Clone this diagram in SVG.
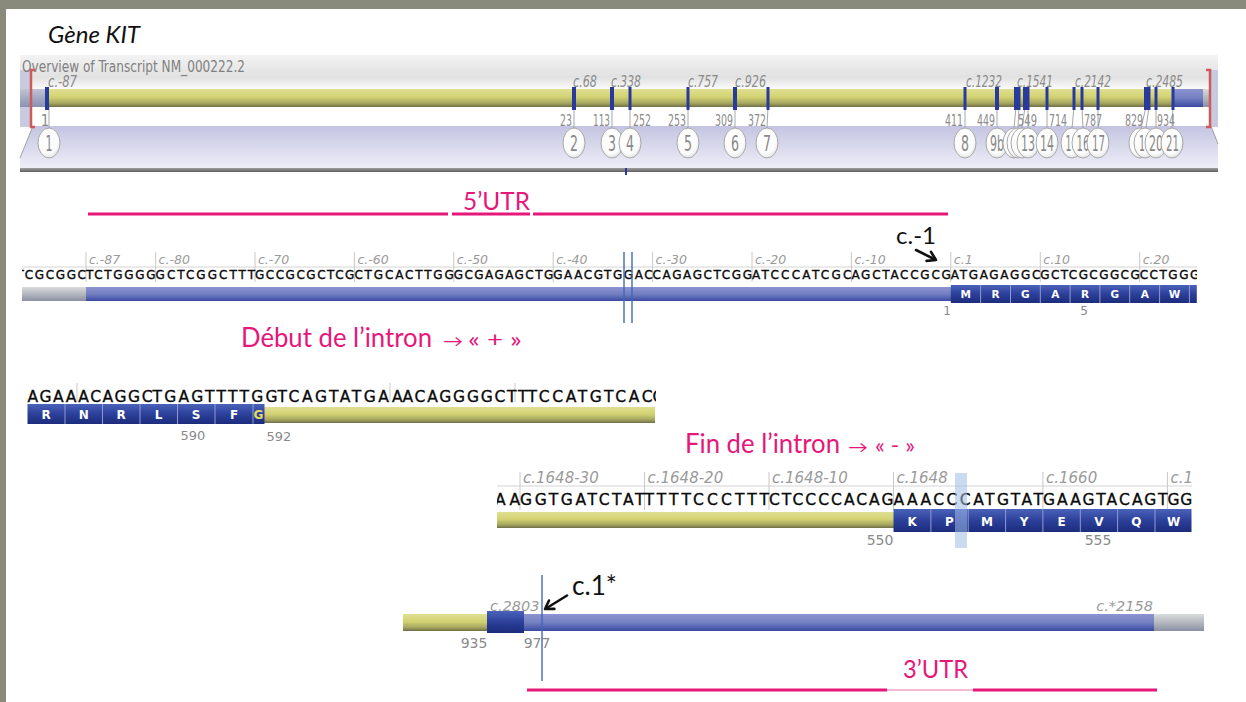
<svg xmlns="http://www.w3.org/2000/svg" width="1246" height="702" viewBox="0 0 1246 702">
<defs>
<linearGradient id="gYel" x1="0" y1="0" x2="0" y2="1"><stop offset="0" stop-color="#dfdf92"/><stop offset="0.45" stop-color="#d2d272"/><stop offset="0.8" stop-color="#a4a460"/><stop offset="1" stop-color="#6e6e46"/></linearGradient>
<linearGradient id="gBlue" x1="0" y1="0" x2="0" y2="1"><stop offset="0" stop-color="#8c94d0"/><stop offset="0.5" stop-color="#7480c2"/><stop offset="1" stop-color="#3a4aa2"/></linearGradient>
<linearGradient id="gDark" x1="0" y1="0" x2="0" y2="1"><stop offset="0" stop-color="#4a62ba"/><stop offset="0.5" stop-color="#2c409a"/><stop offset="1" stop-color="#1c2c7c"/></linearGradient>
<linearGradient id="gGray" x1="0" y1="0" x2="0" y2="1"><stop offset="0" stop-color="#d8dcdc"/><stop offset="0.5" stop-color="#b4b8bf"/><stop offset="1" stop-color="#8a90a2"/></linearGradient>
<linearGradient id="gGrayBlue" x1="0" y1="0" x2="0" y2="1"><stop offset="0" stop-color="#c0c4d6"/><stop offset="1" stop-color="#8a90b0"/></linearGradient>
<linearGradient id="gLav" x1="0" y1="0" x2="0" y2="1"><stop offset="0" stop-color="#c4c4e2"/><stop offset="1" stop-color="#eeeef8"/></linearGradient>
<linearGradient id="gTop" x1="0" y1="0" x2="0" y2="1"><stop offset="0" stop-color="#f3f3f3"/><stop offset="0.65" stop-color="#e1e1e1"/><stop offset="1" stop-color="#fafafa"/></linearGradient>
<linearGradient id="gBot" x1="0" y1="0" x2="0" y2="1"><stop offset="0" stop-color="#a0a0a0"/><stop offset="1" stop-color="#5e5e5e"/></linearGradient>
<radialGradient id="gCirc" cx="0.45" cy="0.4" r="0.65"><stop offset="0" stop-color="#ffffff"/><stop offset="0.7" stop-color="#fbfbfb"/><stop offset="1" stop-color="#dcdcdc"/></radialGradient>
<clipPath id="c1"><rect x="22" y="245" width="1175" height="60"/></clipPath>
<clipPath id="c2"><rect x="26" y="380" width="630" height="30"/></clipPath>
<clipPath id="c3"><rect x="497" y="465" width="695" height="50"/></clipPath>
</defs>
<style>
.seq{font-family:'DejaVu Sans',Verdana,sans-serif;fill:#0a0a0a;stroke:#0a0a0a;stroke-width:0.35}
.s1{font-size:12px}
.s2{font-size:15.5px}
.rl{font-family:'DejaVu Sans',Verdana,sans-serif;font-style:italic;fill:#9a9a9a}
.aa{font-family:'DejaVu Sans',Verdana,sans-serif;font-weight:bold;fill:#ffffff;text-anchor:middle}
.num{font-family:'DejaVu Sans',Verdana,sans-serif;fill:#8a8a8a;text-anchor:middle}
.pink{font-family:Lato,'Open Sans','DejaVu Sans',sans-serif;fill:#e6177a}
.blk{font-family:Lato,'Open Sans',sans-serif;fill:#111}
.ov{font-family:'DejaVu Sans Condensed','Liberation Sans',sans-serif;fill:#808080}
.ovi{font-family:'DejaVu Sans Condensed','Liberation Sans',sans-serif;fill:#8a8a8a;font-style:italic;font-size:15px}
.ovn{font-family:'DejaVu Sans Condensed','Liberation Sans',sans-serif;fill:#8a8a8a;font-size:15px}
.cl{font-family:'DejaVu Sans Condensed','Liberation Sans',sans-serif;fill:#888888;font-size:22px;text-anchor:middle}
.mk{fill:#2a3a9c}
.tick{stroke:#c8c8c8;stroke-width:1}
.circ{fill:url(#gCirc);stroke:#a8a8a8;stroke-width:1}
.lead{stroke:#a8a8a8;stroke-width:1}
.sep{stroke:#8f9bd0;stroke-width:1}
.pl{stroke:#e6177a;stroke-width:3}
.arr{stroke:#111;stroke-width:2.6;fill:none;stroke-linecap:round;stroke-linejoin:round}
.vl{stroke:#3f68b8;stroke-width:1.4}
</style>

<rect width="1246" height="702" fill="#ffffff"/>
<rect x="0" y="0" width="1246" height="9" fill="#8a8a7c"/>
<rect x="0" y="0" width="6" height="702" fill="#8a8a7c"/>

<text x="48" y="43" class="blk" font-size="24" font-style="italic" textLength="92" lengthAdjust="spacingAndGlyphs">Gène KIT</text>

<g id="overview">
<rect x="20" y="55" width="1198" height="34" fill="url(#gTop)"/>
<rect x="20" y="70" width="12" height="57" fill="#c8cbe0"/>
<rect x="1210" y="70" width="8" height="57" fill="#c8cbe0"/>
<polygon points="33,126 1211,126 1218,144 1218,168 20,168 20,158" fill="url(#gLav)"/>
<line x1="33" y1="126" x2="20" y2="158" stroke="#a0a0a0" stroke-width="1"/>
<line x1="1211" y1="126" x2="1218" y2="144" stroke="#a0a0a0" stroke-width="1"/>
<rect x="20" y="168" width="1198" height="4" fill="url(#gBot)"/>
<rect x="625" y="168" width="2" height="7" fill="#2a3a9c"/>
<text x="22" y="72" class="ov" font-size="16" textLength="223" lengthAdjust="spacingAndGlyphs">Overview of Transcript NM_000222.2</text>
<rect x="20" y="89" width="27" height="18" fill="url(#gGrayBlue)"/>
<rect x="47" y="89" width="1126" height="18" fill="url(#gYel)"/>
<rect x="1173" y="89" width="30" height="18" fill="url(#gBlue)"/>
<rect x="1203" y="89" width="7" height="18" fill="url(#gGray)"/>
<path d="M35,70 H31 V127 H35" fill="none" stroke="#d05a5a" stroke-width="2.5"/>
<path d="M1206,70 H1210 V127 H1206" fill="none" stroke="#d05a5a" stroke-width="2.5"/>

<g id="ov-labels">
<text x="48" y="87" class="ovi" textLength="29" lengthAdjust="spacingAndGlyphs">c.-87</text>
<text x="573" y="87" class="ovi" textLength="24" lengthAdjust="spacingAndGlyphs">c.68</text>
<text x="611" y="87" class="ovi" textLength="30" lengthAdjust="spacingAndGlyphs">c.338</text>
<text x="688" y="87" class="ovi" textLength="30" lengthAdjust="spacingAndGlyphs">c.757</text>
<text x="735" y="87" class="ovi" textLength="31" lengthAdjust="spacingAndGlyphs">c.926</text>
<text x="966" y="87" class="ovi" textLength="36" lengthAdjust="spacingAndGlyphs">c.1232</text>
<text x="1017" y="87" class="ovi" textLength="36" lengthAdjust="spacingAndGlyphs">c.1541</text>
<text x="1075" y="87" class="ovi" textLength="36" lengthAdjust="spacingAndGlyphs">c.2142</text>
<text x="1146" y="87" class="ovi" textLength="37" lengthAdjust="spacingAndGlyphs">c.2485</text>
</g>

<g id="ov-leads">
<line class="lead" x1="49" y1="107" x2="49" y2="128"/>
<line class="lead" x1="574" y1="107" x2="574" y2="128"/>
<line class="lead" x1="612" y1="107" x2="612" y2="128"/>
<line class="lead" x1="630" y1="107" x2="630" y2="128"/>
<line class="lead" x1="688" y1="107" x2="688" y2="128"/>
<line class="lead" x1="735" y1="107" x2="735" y2="128"/>
<line class="lead" x1="768" y1="107" x2="767" y2="128"/>
<line class="lead" x1="965" y1="107" x2="965" y2="128"/>
<line class="lead" x1="997" y1="107" x2="997" y2="128"/>
<line class="lead" x1="1016" y1="107" x2="1014" y2="128"/>
<line class="lead" x1="1019" y1="107" x2="1018" y2="128"/>
<line class="lead" x1="1025" y1="107" x2="1022" y2="128"/>
<line class="lead" x1="1028" y1="107" x2="1028" y2="128"/>
<line class="lead" x1="1047" y1="107" x2="1047" y2="128"/>
<line class="lead" x1="1074" y1="107" x2="1072" y2="128"/>
<line class="lead" x1="1082" y1="107" x2="1083" y2="128"/>
<line class="lead" x1="1098" y1="107" x2="1098" y2="128"/>
<line class="lead" x1="1146" y1="107" x2="1141" y2="128"/>
<line class="lead" x1="1149" y1="107" x2="1146" y2="128"/>
<line class="lead" x1="1156" y1="107" x2="1156" y2="128"/>
<line class="lead" x1="1173" y1="107" x2="1172" y2="128"/>
</g>

<g id="ov-markers">
<rect class="mk" x="45" y="87" width="4" height="23"/>
<rect class="mk" x="572" y="87" width="4" height="23"/>
<rect class="mk" x="610" y="87" width="4" height="23"/>
<rect class="mk" x="628.5" y="87" width="3" height="23"/>
<rect class="mk" x="686.5" y="87" width="3" height="23"/>
<rect class="mk" x="733" y="87" width="4" height="23"/>
<rect class="mk" x="766.5" y="87" width="3" height="23"/>
<rect class="mk" x="963.5" y="87" width="3" height="23"/>
<rect class="mk" x="995" y="87" width="4" height="23"/>
<rect class="mk" x="1014" y="87" width="4" height="23"/>
<rect class="mk" x="1017.5" y="87" width="3" height="23"/>
<rect class="mk" x="1023" y="87" width="4" height="23"/>
<rect class="mk" x="1026.5" y="87" width="3" height="23"/>
<rect class="mk" x="1045.5" y="87" width="3" height="23"/>
<rect class="mk" x="1072.5" y="87" width="3" height="23"/>
<rect class="mk" x="1080.5" y="87" width="3" height="23"/>
<rect class="mk" x="1096.5" y="87" width="3" height="23"/>
<rect class="mk" x="1144" y="87" width="4" height="23"/>
<rect class="mk" x="1147.5" y="87" width="3" height="23"/>
<rect class="mk" x="1154.5" y="87" width="3" height="23"/>
<rect class="mk" x="1171.5" y="87" width="3" height="23"/>
</g>

<g id="ov-numbers">
<text x="45" y="126" class="ovn" text-anchor="middle">1</text>
<text x="572" y="126" class="ovn" text-anchor="end" textLength="12" lengthAdjust="spacingAndGlyphs">23</text>
<text x="610" y="126" class="ovn" text-anchor="end" textLength="17" lengthAdjust="spacingAndGlyphs">113</text>
<text x="633" y="126" class="ovn" textLength="18" lengthAdjust="spacingAndGlyphs">252</text>
<text x="686" y="126" class="ovn" text-anchor="end" textLength="18" lengthAdjust="spacingAndGlyphs">253</text>
<text x="733" y="126" class="ovn" text-anchor="end" textLength="18" lengthAdjust="spacingAndGlyphs">309</text>
<text x="766" y="126" class="ovn" text-anchor="end" textLength="18" lengthAdjust="spacingAndGlyphs">372</text>
<text x="963" y="126" class="ovn" text-anchor="end" textLength="18" lengthAdjust="spacingAndGlyphs">411</text>
<text x="995" y="126" class="ovn" text-anchor="end" textLength="18" lengthAdjust="spacingAndGlyphs">449</text>
<text x="1018" y="126" class="ovn" textLength="19" lengthAdjust="spacingAndGlyphs">549</text>
<text x="1049" y="126" class="ovn" textLength="18" lengthAdjust="spacingAndGlyphs">714</text>
<text x="1084" y="126" class="ovn" textLength="18" lengthAdjust="spacingAndGlyphs">787</text>
<text x="1143" y="126" class="ovn" text-anchor="end" textLength="18" lengthAdjust="spacingAndGlyphs">829</text>
<text x="1157" y="126" class="ovn" textLength="18" lengthAdjust="spacingAndGlyphs">934</text>
</g>

<g id="ov-exons">
<g id="ex1"><ellipse class="circ" cx="49" cy="143" rx="11" ry="15"/><text class="cl" x="49" y="151" textLength="7" lengthAdjust="spacingAndGlyphs">1</text></g>
<g id="ex2"><ellipse class="circ" cx="574" cy="143" rx="11" ry="15"/><text class="cl" x="574" y="151" textLength="8" lengthAdjust="spacingAndGlyphs">2</text></g>
<g id="ex3"><ellipse class="circ" cx="612" cy="143" rx="11" ry="15"/><text class="cl" x="612" y="151" textLength="8" lengthAdjust="spacingAndGlyphs">3</text></g>
<g id="ex4"><ellipse class="circ" cx="630" cy="143" rx="11" ry="15"/><text class="cl" x="630" y="151" textLength="8" lengthAdjust="spacingAndGlyphs">4</text></g>
<g id="ex5"><ellipse class="circ" cx="688" cy="143" rx="11" ry="15"/><text class="cl" x="688" y="151" textLength="8" lengthAdjust="spacingAndGlyphs">5</text></g>
<g id="ex6"><ellipse class="circ" cx="735" cy="143" rx="11" ry="15"/><text class="cl" x="735" y="151" textLength="8" lengthAdjust="spacingAndGlyphs">6</text></g>
<g id="ex7"><ellipse class="circ" cx="767" cy="143" rx="11" ry="15"/><text class="cl" x="767" y="151" textLength="8" lengthAdjust="spacingAndGlyphs">7</text></g>
<g id="ex8"><ellipse class="circ" cx="965" cy="143" rx="11" ry="15"/><text class="cl" x="965" y="151" textLength="8" lengthAdjust="spacingAndGlyphs">8</text></g>
<g id="ex9b"><ellipse class="circ" cx="997" cy="143" rx="11" ry="15"/><text class="cl" x="997" y="151" textLength="14" lengthAdjust="spacingAndGlyphs">9b</text></g>
<g id="ex10"><ellipse class="circ" cx="1014" cy="143" rx="11" ry="15"/></g>
<g id="ex11"><ellipse class="circ" cx="1018" cy="143" rx="11" ry="15"/></g>
<g id="ex12"><ellipse class="circ" cx="1022" cy="143" rx="11" ry="15"/></g>
<g id="ex13"><ellipse class="circ" cx="1028" cy="143" rx="11" ry="15"/><text class="cl" x="1028" y="151" textLength="14" lengthAdjust="spacingAndGlyphs">13</text></g>
<g id="ex14"><ellipse class="circ" cx="1047" cy="143" rx="11" ry="15"/><text class="cl" x="1047" y="151" textLength="14" lengthAdjust="spacingAndGlyphs">14</text></g>
<g id="ex15"><ellipse class="circ" cx="1072" cy="143" rx="11" ry="15"/><text class="cl" x="1068.5" y="151" textLength="6" lengthAdjust="spacingAndGlyphs">1</text></g>
<g id="ex16"><ellipse class="circ" cx="1083" cy="143" rx="11" ry="15"/><text class="cl" x="1083" y="151" textLength="13" lengthAdjust="spacingAndGlyphs">16</text></g>
<g id="ex17"><ellipse class="circ" cx="1098" cy="143" rx="11" ry="15"/><text class="cl" x="1098.5" y="151" textLength="13" lengthAdjust="spacingAndGlyphs">17</text></g>
<g id="ex18"><ellipse class="circ" cx="1140" cy="143" rx="11" ry="15"/></g>
<g id="ex19"><ellipse class="circ" cx="1145" cy="143" rx="11" ry="15"/><text class="cl" x="1142" y="151" textLength="6" lengthAdjust="spacingAndGlyphs">1</text></g>
<g id="ex20"><ellipse class="circ" cx="1156" cy="143" rx="11" ry="15"/><text class="cl" x="1156" y="151" textLength="14" lengthAdjust="spacingAndGlyphs">20</text></g>
<g id="ex21"><ellipse class="circ" cx="1172" cy="143" rx="11" ry="15"/><text class="cl" x="1172.5" y="151" textLength="13" lengthAdjust="spacingAndGlyphs">21</text></g>
</g>
</g>

<g id="utr5">
<line class="pl" x1="88" y1="214" x2="448" y2="214"/>
<line class="pl" x1="452" y1="214" x2="530" y2="214"/>
<line class="pl" x1="533" y1="214" x2="948" y2="214"/>
<text x="463" y="210" class="pink" font-size="25" textLength="67" lengthAdjust="spacingAndGlyphs">5’UTR</text>
</g>

<g id="row1">
<line x1="22" y1="267" x2="1197" y2="267" stroke="#d4d4d4" stroke-width="1"/>
<g id="row1-ticks">
<line class="tick" x1="86" y1="252" x2="86" y2="282"/>
<line class="tick" x1="155.6" y1="252" x2="155.6" y2="282"/>
<line class="tick" x1="255" y1="252" x2="255" y2="282"/>
<line class="tick" x1="354.4" y1="252" x2="354.4" y2="282"/>
<line class="tick" x1="453.8" y1="252" x2="453.8" y2="282"/>
<line class="tick" x1="553.2" y1="252" x2="553.2" y2="282"/>
<line class="tick" x1="652.6" y1="252" x2="652.6" y2="282"/>
<line class="tick" x1="752" y1="252" x2="752" y2="282"/>
<line class="tick" x1="851.4" y1="252" x2="851.4" y2="282"/>
<line class="tick" x1="950.8" y1="252" x2="950.8" y2="282"/>
<line class="tick" x1="1040.3" y1="252" x2="1040.3" y2="282"/>
<line class="tick" x1="1139.7" y1="252" x2="1139.7" y2="282"/>
</g>
<g font-size="12.5">
<text class="rl" x="89" y="264">c.-87</text>
<text class="rl" x="158.6" y="264">c.-80</text>
<text class="rl" x="258" y="264">c.-70</text>
<text class="rl" x="357.4" y="264">c.-60</text>
<text class="rl" x="456.8" y="264">c.-50</text>
<text class="rl" x="556.2" y="264">c.-40</text>
<text class="rl" x="655.6" y="264">c.-30</text>
<text class="rl" x="755" y="264">c.-20</text>
<text class="rl" x="854.4" y="264">c.-10</text>
<text class="rl" x="953.8" y="264">c.1</text>
<text class="rl" x="1043.3" y="264">c.10</text>
<text class="rl" x="1142.7" y="264">c.20</text>
</g>
<g clip-path="url(#c1)" class="seq s1">
<text x="16.4" y="279" textLength="69.6">TCGCGGC</text>
<text x="86" y="279" textLength="69.6">TCTGGGG</text>
<text x="155.6" y="279" textLength="99.4">GCTCGGCTTT</text>
<text x="255" y="279" textLength="99.4">GCCGCGCTCG</text>
<text x="354.4" y="279" textLength="99.4">CTGCACTTGG</text>
<text x="453.8" y="279" textLength="99.4">GCGAGAGCTG</text>
<text x="553.2" y="279" textLength="99.4">GAACGTGGAC</text>
<text x="652.6" y="279" textLength="99.4">CAGAGCTCGG</text>
<text x="752" y="279" textLength="99.4">ATCCCATCGC</text>
<text x="851.4" y="279" textLength="99.4">AGCTACCGCG</text>
<text x="950.8" y="279" textLength="89.5">ATGAGAGGC</text>
<text x="1040.3" y="279" textLength="99.4">GCTCGCGGCG</text>
<text x="1139.7" y="279" textLength="59.6">CCTGGG</text>
</g>
<rect x="22" y="287" width="64" height="14" fill="url(#gGray)"/>
<rect x="86" y="287" width="865" height="14" fill="url(#gBlue)"/>
<rect x="950.8" y="285" width="246" height="18" fill="url(#gDark)"/>
<g id="row1-cells">
<line class="sep" x1="980.6" y1="285" x2="980.6" y2="303"/>
<line class="sep" x1="1010.5" y1="285" x2="1010.5" y2="303"/>
<line class="sep" x1="1040.3" y1="285" x2="1040.3" y2="303"/>
<line class="sep" x1="1070.1" y1="285" x2="1070.1" y2="303"/>
<line class="sep" x1="1099.9" y1="285" x2="1099.9" y2="303"/>
<line class="sep" x1="1129.7" y1="285" x2="1129.7" y2="303"/>
<line class="sep" x1="1159.6" y1="285" x2="1159.6" y2="303"/>
<line class="sep" x1="1189.4" y1="285" x2="1189.4" y2="303"/>
</g>
<g font-size="10.5">
<text class="aa" x="965.7" y="298">M</text>
<text class="aa" x="995.6" y="298">R</text>
<text class="aa" x="1025.4" y="298">G</text>
<text class="aa" x="1055.2" y="298">A</text>
<text class="aa" x="1085" y="298">R</text>
<text class="aa" x="1114.8" y="298">G</text>
<text class="aa" x="1144.7" y="298">A</text>
<text class="aa" x="1174.5" y="298">W</text>
</g>
<text class="num" x="947" y="315" font-size="12">1</text>
<text class="num" x="1084" y="315" font-size="12">5</text>
<line class="vl" x1="624" y1="252" x2="624" y2="323"/>
<line class="vl" x1="632" y1="252" x2="632" y2="323"/>
</g>

<g id="label-c-1">
<text x="896" y="244" class="blk" font-size="24" textLength="40" lengthAdjust="spacingAndGlyphs">c.-1</text>
<line class="arr" x1="916" y1="250" x2="935" y2="259.5"/>
<polyline class="arr" points="926.6,260.9 936,260 931,251.9"/>
</g>

<g id="label-debut">
<text x="241" y="347" class="pink" font-size="26" textLength="191" lengthAdjust="spacingAndGlyphs">Début de l’intron</text>
<text x="443" y="347" class="pink" font-size="16" textLength="20" lengthAdjust="spacingAndGlyphs">→</text>
<text x="468" y="347" class="pink" font-size="22" textLength="54" lengthAdjust="spacingAndGlyphs">« + »</text>
</g>

<g id="row2">
<line class="tick" x1="77" y1="383" x2="77" y2="402"/>
<line class="tick" x1="390" y1="383" x2="390" y2="402"/>
<line class="tick" x1="515" y1="383" x2="515" y2="402"/>
<g clip-path="url(#c2)" class="seq s2">
<text x="27.5" y="402" textLength="125">AGAAACAGGC</text>
<text x="152.5" y="402" textLength="125">TGAGTTTTGG</text>
<text x="277.5" y="402" textLength="125">TCAGTATGAA</text>
<text x="402.5" y="402" textLength="125">ACAGGGGCTT</text>
<text x="527.5" y="402" textLength="125">TCCATGTCAC</text>
<text x="652.5" y="402">C</text>
</g>
<rect x="264" y="407" width="391" height="16" fill="url(#gYel)"/>
<rect x="27.5" y="404" width="237" height="20" fill="url(#gDark)"/>
<line class="sep" x1="65" y1="404" x2="65" y2="424"/>
<line class="sep" x1="102.5" y1="404" x2="102.5" y2="424"/>
<line class="sep" x1="140" y1="404" x2="140" y2="424"/>
<line class="sep" x1="177.5" y1="404" x2="177.5" y2="424"/>
<line class="sep" x1="215" y1="404" x2="215" y2="424"/>
<line class="sep" x1="253" y1="404" x2="253" y2="424"/>
<g font-size="12">
<text class="aa" x="46.2" y="419">R</text>
<text class="aa" x="83.7" y="419">N</text>
<text class="aa" x="121.2" y="419">R</text>
<text class="aa" x="158.7" y="419">L</text>
<text class="aa" x="196.2" y="419">S</text>
<text class="aa" x="234" y="419">F</text>
<text class="aa" x="258.5" y="419" style="fill:#e4dc5a">G</text>
</g>
<text class="num" x="193" y="440" font-size="13">590</text>
<text class="num" x="279" y="441" font-size="13">592</text>
</g>

<g id="label-fin">
<text x="685" y="453" class="pink" font-size="26" textLength="155" lengthAdjust="spacingAndGlyphs">Fin de l’intron</text>
<text x="848" y="453" class="pink" font-size="16" textLength="20" lengthAdjust="spacingAndGlyphs">→</text>
<text x="875" y="453" class="pink" font-size="22" textLength="40" lengthAdjust="spacingAndGlyphs">« - »</text>
</g>

<g id="row3">
<line x1="497" y1="486" x2="1192" y2="486" stroke="#d4d4d4" stroke-width="1"/>
<line class="tick" x1="520" y1="472" x2="520" y2="510"/>
<line class="tick" x1="644.5" y1="472" x2="644.5" y2="510"/>
<line class="tick" x1="769" y1="472" x2="769" y2="510"/>
<line class="tick" x1="893.5" y1="472" x2="893.5" y2="510"/>
<line class="tick" x1="1042.9" y1="472" x2="1042.9" y2="510"/>
<line class="tick" x1="1167.4" y1="472" x2="1167.4" y2="510"/>
<g font-size="15">
<text class="rl" x="523" y="483">c.1648-30</text>
<text class="rl" x="647.5" y="483">c.1648-20</text>
<text class="rl" x="772" y="483">c.1648-10</text>
<text class="rl" x="896.5" y="483">c.1648</text>
<text class="rl" x="1046" y="483">c.1660</text>
<text class="rl" x="1170.4" y="483" clip-path="url(#c3)">c.1</text>
</g>
<g clip-path="url(#c3)" class="seq s2">
<text x="495.1" y="505" textLength="24.9">AA</text>
<text x="520" y="505" textLength="124.5">GGTGATCTAT</text>
<text x="644.5" y="505" textLength="124.5">TTTTCCCTTT</text>
<text x="769" y="505" textLength="124.5">CTCCCCACAG</text>
<text x="893.5" y="505" textLength="149.4">AAACCCATGTAT</text>
<text x="1042.9" y="505" textLength="124.5">GAAGTACAGT</text>
<text x="1167.4" y="505" textLength="24.9">GG</text>
</g>
<rect x="497" y="512" width="397" height="16" fill="url(#gYel)"/>
<rect x="893.5" y="509" width="298" height="23" fill="url(#gDark)"/>
<line class="sep" x1="930.9" y1="509" x2="930.9" y2="532"/>
<line class="sep" x1="968.2" y1="509" x2="968.2" y2="532"/>
<line class="sep" x1="1005.6" y1="509" x2="1005.6" y2="532"/>
<line class="sep" x1="1042.9" y1="509" x2="1042.9" y2="532"/>
<line class="sep" x1="1080.3" y1="509" x2="1080.3" y2="532"/>
<line class="sep" x1="1117.6" y1="509" x2="1117.6" y2="532"/>
<line class="sep" x1="1155" y1="509" x2="1155" y2="532"/>
<g font-size="12">
<text class="aa" x="912.2" y="526">K</text>
<text class="aa" x="949.5" y="526">P</text>
<text class="aa" x="986.9" y="526">M</text>
<text class="aa" x="1024.2" y="526">Y</text>
<text class="aa" x="1061.6" y="526">E</text>
<text class="aa" x="1098.9" y="526">V</text>
<text class="aa" x="1136.3" y="526">Q</text>
<text class="aa" x="1173.6" y="526">W</text>
</g>
<rect x="955" y="473" width="12" height="75" fill="#9fbbe6" opacity="0.55"/>
<text class="num" x="880" y="545" font-size="14">550</text>
<text class="num" x="1098" y="545" font-size="14">555</text>
</g>

<g id="row4">
<rect x="403" y="614" width="85" height="17" fill="url(#gYel)"/>
<rect x="524" y="614" width="630" height="17" fill="url(#gBlue)"/>
<rect x="1154" y="614" width="50" height="17" fill="url(#gGray)"/>
<rect x="487" y="611" width="37" height="22" fill="url(#gDark)"/>
<text class="rl" x="490" y="611" font-size="14.5">c.2803</text>
<text class="rl" x="1153" y="611" font-size="14.5" text-anchor="end">c.*2158</text>
<text class="num" x="474" y="648" font-size="14">935</text>
<text class="num" x="537" y="648" font-size="14">977</text>
<line class="vl" x1="542" y1="575" x2="542" y2="681"/>
</g>

<g id="label-c1star">
<text x="572" y="595" class="blk" font-size="26" textLength="45" lengthAdjust="spacingAndGlyphs">c.1*</text>
<line class="arr" x1="567" y1="595.5" x2="546" y2="608.5"/>
<polyline class="arr" points="549,600.5 545,609 554.4,608.9"/>
</g>

<g id="utr3">
<line class="pl" x1="527" y1="690" x2="887" y2="690"/>
<line x1="887" y1="690" x2="973" y2="690" stroke="#f3a3c6" stroke-width="1.5"/>
<line class="pl" x1="973" y1="690" x2="1157" y2="690"/>
<text x="903" y="678" class="pink" font-size="25" textLength="65" lengthAdjust="spacingAndGlyphs">3’UTR</text>
</g>
</svg>
